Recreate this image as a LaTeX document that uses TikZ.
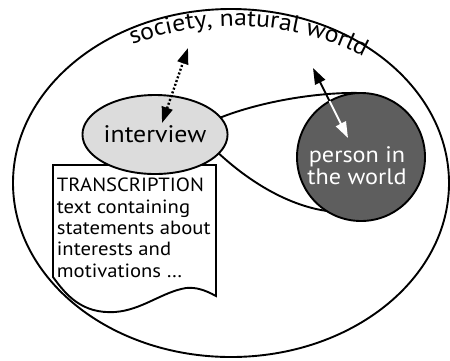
\documentclass[tikz,border=0pt]{standalone}
\usepackage{fontspec}
\setmainfont{PT Sans}[FakeStretch=1.08]
\usetikzlibrary{arrows.meta,decorations.text,shapes.geometric}
\definecolor{lightfill}{HTML}{DCDCDC}
\definecolor{darkfill}{HTML}{5E5E5E}
\begin{document}
\begin{tikzpicture}[x=1bp,y=-1bp,line width=1.9bp,
  outline/.style={draw=black,line width=1.9bp},
  bighead/.style={-{Triangle[length=16bp,width=11bp]}},
  connector/.style={draw=black,line width=1.9bp}]
\useasboundingbox (0,0) rectangle (450,360);
% outer world ellipse
\node[ellipse,outline,minimum width=436bp,minimum height=348bp,inner sep=0] (world) at (231,183) {};
% curved label
\path[decorate,decoration={text along path,text align=center,
  text={|\fontsize{24}{24}\selectfont|society, natural world}}]
  (235,190) ++(240:220 and 164) arc[start angle=240,end angle=308,x radius=220,y radius=164];
% transcription document
\draw[outline,fill=white] (53,165) -- (216,165) -- (216,296)
  .. controls (205,290) and (196,287) .. (186,288)
  .. controls (162,292) and (142,310) .. (115,312)
  .. controls (82,314) and (66,295) .. (53,277) -- cycle;
\node[anchor=base west,align=left,inner sep=0,font=\fontsize{19.2}{21.4}\selectfont] (trans) at (56,277)
  {TRANSCRIPTION\\text containing\\statements about\\interests and\\motivations \dots};
% cone between interview and person
\coordinate (ctop1) at (212,121);
\coordinate (ctop2) at (360,93);
\coordinate (cbot1) at (210,145);
\coordinate (cbot2) at (327,211);
\draw[connector] (ctop1) .. controls (258,101) and (320,92) .. (ctop2);
\draw[connector] (cbot1) .. controls (243,178) and (285,205) .. (cbot2);
% interview
\node[ellipse,outline,fill=lightfill,minimum width=132bp,minimum height=79bp,inner sep=0,
  font=\fontsize{24}{24}\selectfont] (interview) at (155,134.5) {interview};
% person
\node[circle,outline,fill=darkfill,minimum size=128bp,inner sep=0] (person) at (361,157) {};
\node[anchor=base,align=center,inner sep=0,text=white,font=\fontsize{22.5}{18.5}\selectfont] (ptext) at (357,184) {person in\\the world};
% arrows
\coordinate (d1) at (162,123);
\coordinate (d2) at (188,48);
\draw[line width=2.4bp,dash pattern=on 2bp off 2bp,{Triangle[length=16bp,width=11bp]}-{Triangle[length=16bp,width=11bp]}] (d1) -- (d2);
\coordinate (p1) at (313,68);
\coordinate (pc) at (329.5,101);
\coordinate (p2) at (348,138);
\draw[line width=1.9bp,bighead,black] (pc) -- (p1);
\draw[line width=1.9bp,bighead,white] (pc) -- (p2);
\end{tikzpicture}
\end{document}
